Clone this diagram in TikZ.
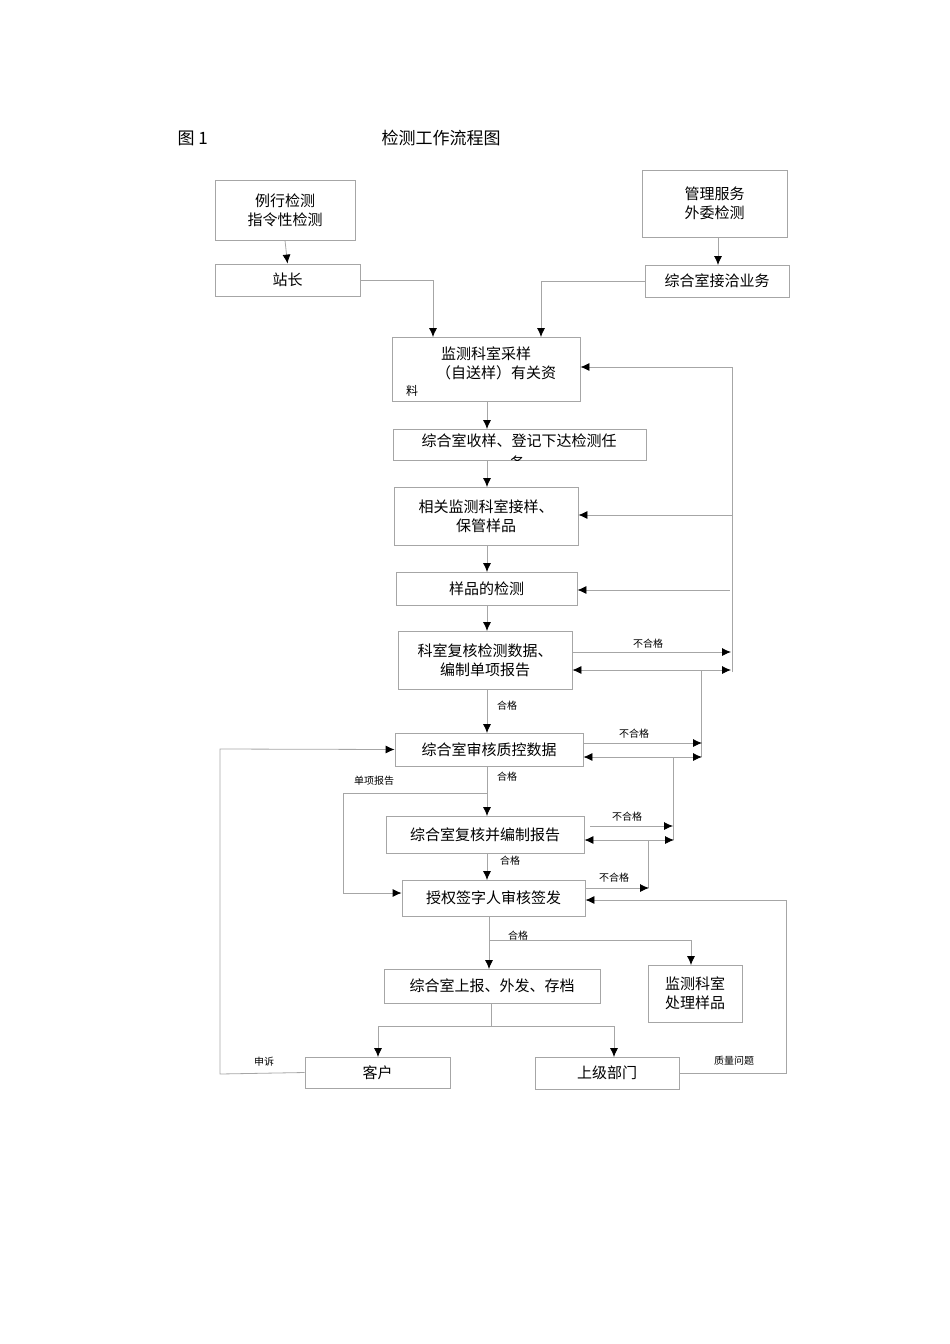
\documentclass[tikz,border=0pt]{standalone}
\usepackage{fontspec}
\setmainfont{Noto Sans CJK SC}[BoldFont={Noto Sans CJK SC}]
\usetikzlibrary{arrows.meta}
\begin{document}
\begin{tikzpicture}[x=1pt,y=-1pt,
 box/.style={draw=gray!70,line width=0.8pt,inner sep=0pt,align=center,font=\fontsize{15}{19}\selectfont},
 ln/.style={draw=gray!70,line width=0.8pt},
 ar/.style={ln,-{Latex[black,length=9pt,width=8pt]}},
 dar/.style={ln,{Latex[black,length=9pt,width=8pt]}-{Latex[black,length=9pt,width=8pt]}},
 lbl/.style={font=\fontsize{10}{12}\selectfont,inner sep=1pt}]
\useasboundingbox (0,0) rectangle (950,1344);
\node[font=\fontsize{17}{20}\selectfont,anchor=west] (t1) at (174,138) {图 1};
\node[font=\fontsize{17}{20}\selectfont,anchor=west] (t2) at (378,138) {检测工作流程图};
% boxes
\node[box,minimum width=140,minimum height=60] (lx) at (285,210) {例行检测\\指令性检测};
\node[box,minimum width=145,minimum height=32] (zz) at (287.5,280) {站长};
\node[box,minimum width=145,minimum height=67] (gl) at (714.5,203.5) {管理服务\\外委检测};
\node[box,minimum width=144,minimum height=32] (jq) at (717,281) {综合室接洽业务};
\node[box,minimum width=188,minimum height=64] (cy) at (486,369) {};
\node[font=\fontsize{15}{19}\selectfont] (cy1) at (486,354) {监测科室采样};
\node[font=\fontsize{15}{19}\selectfont] (cy2) at (496,373) {（自送样）有关资};
\node[lbl,font=\fontsize{12}{14}\selectfont] (cy3) at (412,391) {料};
\node[box,minimum width=253,minimum height=31] (sy) at (519.5,444.5) {};
\node[font=\fontsize{15}{19}\selectfont] (sy1) at (519,441) {综合室收样、登记下达检测任};
\begin{scope}\clip (500,450) rectangle (540,460);
\node[font=\fontsize{15}{19}\selectfont] (sy2) at (517,463) {务};
\end{scope}
\node[box,minimum width=184,minimum height=58] (jy) at (486,516) {相关监测科室接样、\\保管样品};
\node[box,minimum width=181,minimum height=33] (jc) at (486.5,588.5) {样品的检测};
\node[box,minimum width=174,minimum height=58] (fh) at (485,660) {科室复核检测数据、\\编制单项报告};
\node[box,minimum width=188,minimum height=33] (zk) at (489,749.5) {综合室审核质控数据};
\node[box,minimum width=198,minimum height=37] (bz) at (485,834.5) {综合室复核并编制报告};
\node[box,minimum width=183,minimum height=36] (qf) at (493.5,898) {授权签字人审核签发};
\node[box,minimum width=216,minimum height=34] (sb) at (492,986) {综合室上报、外发、存档};
\node[box,minimum width=94,minimum height=57] (cl) at (695,993.5) {监测科室\\处理样品};
\node[box,minimum width=145,minimum height=31] (kh) at (377.5,1072.5) {客户};
\node[box,minimum width=144,minimum height=32] (sj) at (607,1073) {上级部门};
% top connectors
\draw[ar] (lx.south) -- (zz.north);
\draw[ar] (gl.south -| 718,0) -- (718,265);
\draw[ar] (zz.east) -- (433,280) -- (433,337);
\draw[ar] (jq.west) -- (541,281) -- (541,337);
\draw[ar] (487,401) -- (487,429);
\draw[ar] (487,460) -- (487,487);
\draw[ar] (487,545) -- (487,572);
\draw[ar] (487,605) -- (487,631);
\draw[ar] (487,689) -- (487,733);
\draw[ar] (487,766) -- (487,816);
\draw[ar] (487,853) -- (487,880);
\draw[ar] (489,916) -- (489,969);
\draw[ar] (489,940) -- (691,940) -- (691,965);
\draw[ln] (491,1003) -- (491,1026);
\draw[ar] (378,1026) -- (378,1057);
\draw[ar] (378,1026) -- (614,1026) -- (614,1057);
% right feedback
\draw[ln] (732,672) -- (732,367);
\draw[ar] (732,367) -- (cy.east |- 0,367);
\draw[ar] (732,515) -- (jy.east |- 0,515);
\draw[ar] (730,590) -- (jc.east |- 0,590);
\draw[ar] (fh.east |- 0,652) -- (731,652);
\node[lbl] (n1) at (648,644) {不合格};
\draw[dar] (fh.east |- 0,670) -- (731,670);
\draw[ln] (701,670) -- (701,757);
\node[lbl] (h1) at (507,706) {合格};
\draw[ar] (zk.east |- 0,743) -- (702,743);
\node[lbl] (n2) at (634,734) {不合格};
\draw[dar] (zk.east |- 0,757) -- (702,757);
\draw[ln] (673,757) -- (673,840);
\node[lbl] (h2) at (507,777) {合格};
\draw[ar] (590,826) -- (673,826);
\node[lbl] (n3) at (627,817) {不合格};
\draw[dar] (bz.east |- 0,840) -- (674,840);
\draw[ln] (648,840) -- (648,888);
\node[lbl] (h3) at (510,861) {合格};
\draw[ar] (qf.east |- 0,888) -- (649,888);
\node[lbl] (n4) at (614,878) {不合格};
\node[lbl] (h4) at (518,936) {合格};
% left
\draw[ar] (kh.west) -- (220,1074) -- (220,749) -- (zk.west);
\node[lbl] (ss) at (264,1062) {申诉};
\draw[ar] (487,793) -- (343,793) -- (343,893) -- (qf.west |- 0,893);
\node[lbl] (dx) at (374,781) {单项报告};
\draw[ar] (sj.east) -- (786,1073) -- (786,900) -- (qf.east |- 0,900);
\node[lbl] (zl) at (734,1061) {质量问题};
\end{tikzpicture}
\end{document}
